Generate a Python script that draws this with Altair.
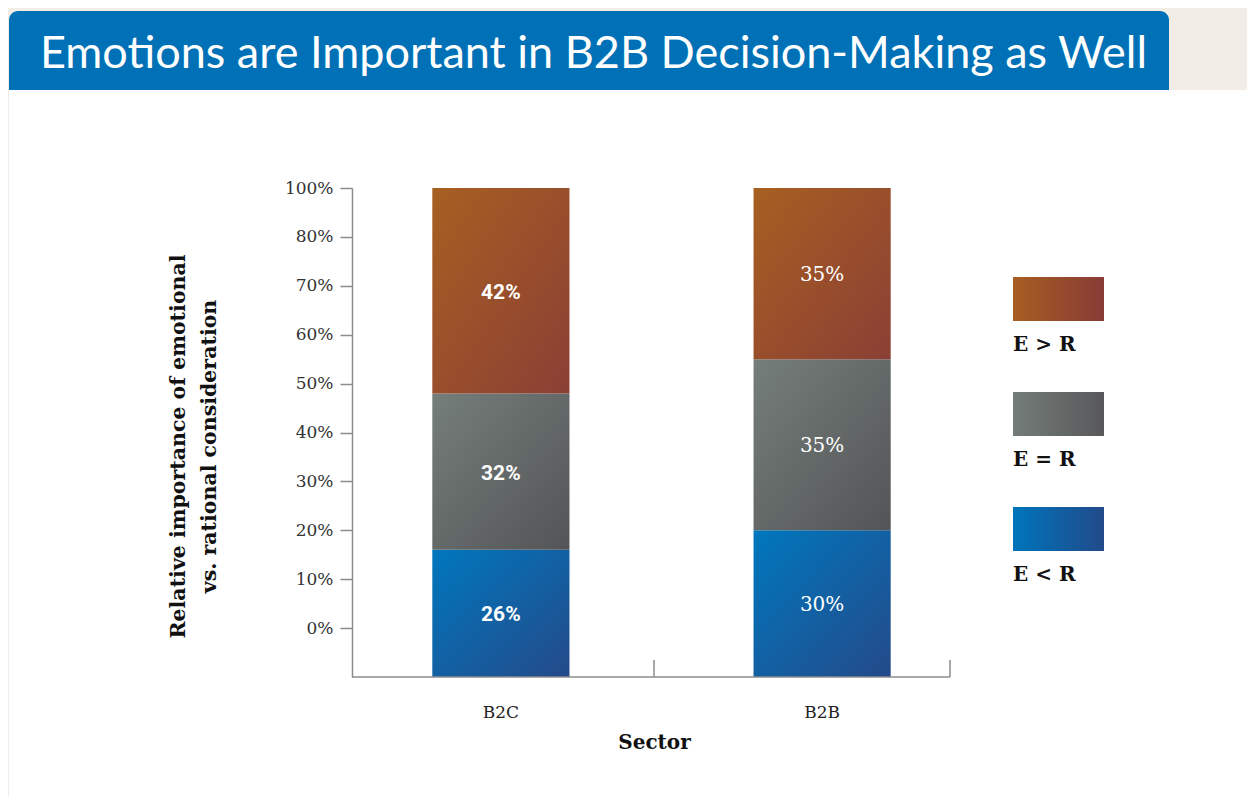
import altair as alt
import pandas as pd

# ---------------- data ----------------
sectors = ["B2C", "B2B"]
categories = ["E < R", "E = R", "E > R"]
b2c_values = [26, 32, 42]
b2b_values = [30, 35, 35]
tick_values = [10, 20, 30, 40, 50, 60, 70, 80, 90, 100]
tick_labels = ["0%", "10%", "20%", "30%", "40%", "50%", "60%", "70%", "80%", "100%"]
title_text = "Emotions are Important in B2B Decision-Making as Well"
y_title = ["Relative importance of emotional", "vs. rational consideration"]
x_title = "Sector"
legend_order = ["E > R", "E = R", "E < R"]

rows = []
for s, vals in zip(sectors, [b2c_values, b2b_values]):
    for i, (c, v) in enumerate(zip(categories, vals)):
        rows.append({"sector": s, "cat": c, "value": v, "order": i, "label": f"{v}%"})
df = pd.DataFrame(rows)

# ---------------- styles ----------------
bar_grad = {
    "E < R": ("#0077bd", "#244a89"),
    "E = R": ("#757e7a", "#535457"),
    "E > R": ("#a85f21", "#8a3f35"),
}
leg_grad = {
    "E < R": ("#0075bb", "#214a8a"),
    "E = R": ("#747d79", "#58585a"),
    "E > R": ("#a85e22", "#873b36"),
}


def grad(c0, c1, x2=1, y2=1):
    return alt.LinearGradient(
        gradient="linear",
        stops=[alt.GradientStop(color=c0, offset=0), alt.GradientStop(color=c1, offset=1)],
        x1=0, y1=0, x2=x2, y2=y2,
    )


label_expr = "".join(
    f"datum.value == {v} ? '{t}' : " for v, t in zip(tick_values, tick_labels)
) + "''"

W, H = 619, 489
serif = "DejaVu Serif"

yaxis = alt.Axis(
    values=tick_values, labelExpr=label_expr, title=y_title, grid=False,
    tickSize=12, tickColor="#8c8c8c", tickWidth=1.5,
    domainColor="#8c8c8c", domainWidth=1.5,
    labelFont=serif, labelFontSize=17, labelColor="#333333", labelPadding=7,
    titleFont=serif, titleFontSize=20.5, titleFontWeight="bold", titleColor="#111111",
    titleX=-174, titleY=258, titleAngle=270, titleAlign="center",
    titleBaseline="middle", titleLineHeight=31, zindex=1,
)
xaxis = alt.Axis(
    domain=False, ticks=False, labelAngle=0, grid=False,
    labelFont=serif, labelFontSize=17, labelColor="#222222", labelPadding=27,
    title=x_title, titleFont=serif, titleFontSize=20, titleFontWeight="bold",
    titleColor="#111111", titleX=302, titleY=65, titleBaseline="middle",
    titleAlign="center", zindex=1,
)
xscale = alt.Scale(domain=sectors, paddingInner=0.573, paddingOuter=0.25)
yscale = alt.Scale(domain=[0, 100], nice=False)
X = alt.X("sector:N", scale=xscale, axis=xaxis)

one = alt.Data(values=[{}])

# ---------------- decoration ----------------
white_panel = alt.Chart(one).mark_rect(color="white").encode(
    x=alt.value(-343), x2=alt.value(910), y=alt.value(-98), y2=alt.value(625)
)
banner = alt.Chart(one).mark_rect(
    color="#0071b6", cornerRadiusTopLeft=9, cornerRadiusTopRight=9
).encode(x=alt.value(-343), x2=alt.value(817), y=alt.value(-177), y2=alt.value(-98))
title = alt.Chart(one).mark_text(
    text=title_text, font="Lato", fontSize=45, color="white", align="left",
    baseline="alphabetic",
).encode(x=alt.value(-312), y=alt.value(-120))

# ---------------- bars ----------------
base = alt.Chart(df).transform_stack(
    stack="value", groupby=["sector"], as_=["y0", "y1"],
    sort=[alt.SortField("order", order="ascending")],
).transform_calculate(mid="(datum.y0 + datum.y1) / 2")

bars = []
for c in categories:
    c0, c1 = bar_grad[c]
    bars.append(
        base.transform_filter(alt.datum.cat == c)
        .mark_bar(color=grad(c0, c1))
        .encode(x=X, y=alt.Y("y0:Q", scale=yscale, axis=yaxis), y2="y1:Q")
    )

labels_b2c = base.transform_filter(alt.datum.sector == "B2C").mark_text(
    font="Roboto", fontWeight="bold", fontSize=21, color="white", dy=2
).encode(x=X, y=alt.Y("mid:Q", scale=yscale, axis=yaxis), text="label:N")
labels_b2b = base.transform_filter(alt.datum.sector == "B2B").mark_text(
    font=serif, fontSize=20, color="white", dy=1
).encode(x=X, y=alt.Y("mid:Q", scale=yscale, axis=yaxis), text="label:N")

# x axis line and ticks
axis_col = "#8c8c8c"
x_line = alt.Chart(one).mark_rule(color=axis_col, strokeWidth=1.5).encode(
    x=alt.value(0), x2=alt.value(598), y=alt.value(H)
)
x_tick1 = alt.Chart(one).mark_rule(color=axis_col, strokeWidth=1.5).encode(
    x=alt.value(302), y=alt.value(472), y2=alt.value(H)
)
x_tick2 = alt.Chart(one).mark_rule(color=axis_col, strokeWidth=1.5).encode(
    x=alt.value(598), y=alt.value(472), y2=alt.value(H)
)

# ---------------- legend ----------------
legend_layers = []
for i, c in enumerate(legend_order):
    top = 89 + i * 115
    c0, c1 = leg_grad[c]
    legend_layers.append(
        alt.Chart(one).mark_rect(color=grad(c0, c1, x2=1, y2=0)).encode(
            x=alt.value(661), x2=alt.value(752), y=alt.value(top), y2=alt.value(top + 44)
        )
    )
    legend_layers.append(
        alt.Chart(one).mark_text(
            text=c, font=serif, fontWeight="bold", fontSize=20, color="#111111",
            align="left", baseline="middle",
        ).encode(x=alt.value(661), y=alt.value(top + 68))
    )

chart = alt.layer(
    white_panel, banner, title, *bars, labels_b2c, labels_b2b,
    x_line, x_tick1, x_tick2, *legend_layers,
).properties(
    width=W, height=H,
    padding={"left": 344, "top": 180, "right": 1239 - 344 - W, "bottom": 120},
    autosize=alt.AutoSizeParams(type="none"),
    background="#f1ece5",
).configure_view(stroke=None)

chart.save("out.html", embed_options={"renderer": "svg", "actions": False})
